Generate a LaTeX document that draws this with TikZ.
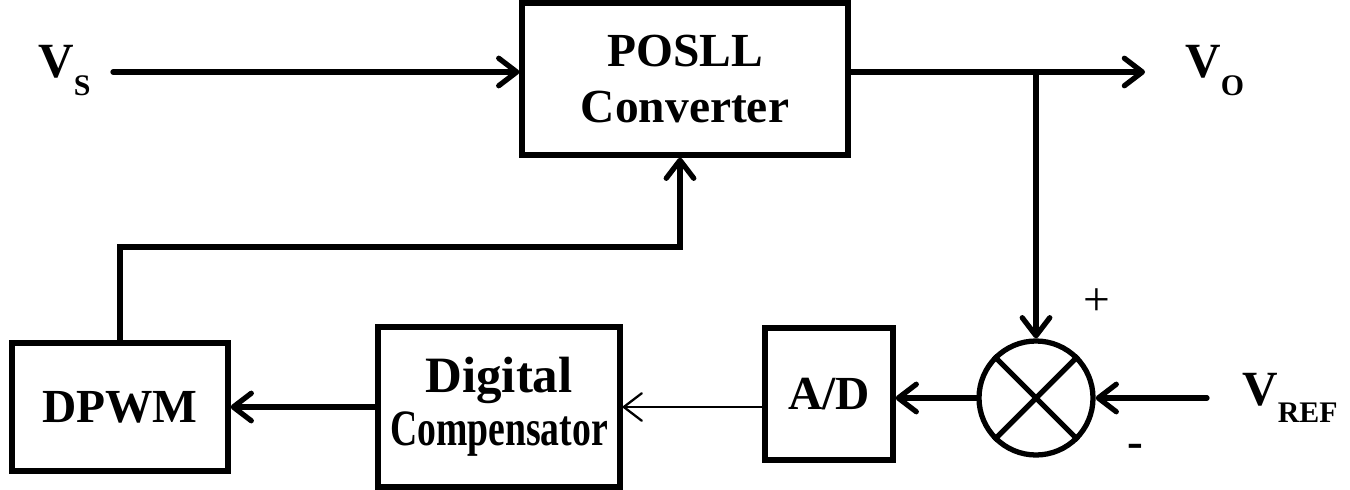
\documentclass[tikz,border=0pt]{standalone}
\usepackage{fontspec}
\setmainfont{Liberation Serif}
\usepackage{tikz}
\usetikzlibrary{arrows.meta}

\newcommand{\sig}[2]{\bfseries\fontsize{28}{28}\selectfont V\raisebox{-10pt}{\fontsize{17}{17}\selectfont #2}}
\newcommand{\narrowtxt}[1]{\scalebox{0.74}[1]{#1}}

\tikzset{
  block/.style={draw, rectangle, line width=3pt, align=center,
    font=\bfseries\fontsize{27}{32}\selectfont},
  sumjunc/.style={draw, circle, line width=3pt, minimum size=2.28cm, inner sep=0pt},
  wire/.style={line width=3pt, line cap=round},
  thinwire/.style={line width=1.3pt}
}

\begin{document}
\begin{tikzpicture}[>={Straight Barb[length=0.36cm,width=0.55cm,round]}]
		\useasboundingbox (0,0) rectangle (27,9.78);
		\node[block, minimum width=6.52cm, minimum height=3.04cm] at (13.7,8.2) (posll){POSLL\\Converter};
		\node[block, minimum width=2.56cm, minimum height=2.64cm] at (16.58,1.9) (ad){A/D};
		\node[block, minimum width=4.84cm, minimum height=3.2cm] at (9.98,1.64) (dc){{\fontsize{29}{29}\selectfont Digital}\\[-2pt]{\fontsize{29}{29}\selectfont\narrowtxt{Compensator}}};
		\node[block, minimum width=4.32cm, minimum height=2.56cm] at (2.4,1.64) (dpwm){DPWM};
		\node[sumjunc] at (20.72,1.82) (sum){};
		\draw[line width=3pt] (sum.north west) -- (sum.south east);
		\draw[line width=3pt] (sum.north east) -- (sum.south west);
		% signal labels
		\node[anchor=base west, inner sep=0pt] at (0.76,8.22) (vslab){\sig{V}{S}};
		\node[anchor=base west, inner sep=0pt] at (23.7,8.22) (volab){\sig{V}{O}};
		\node[anchor=base west, inner sep=0pt] at (24.84,1.68) (vreflab){\sig{V}{REF}};
		\node[font=\fontsize{27}{27}\selectfont] at (21.94,3.74) (plus){+};
		\node[font=\bfseries\fontsize{27}{27}\selectfont] at (22.7,0.76) (minus){-};
		\coordinate (vs) at (2.26,8.34);
		\coordinate (vo) at (22.9,8.34);
		\coordinate (br) at (20.72,8.34);
		\coordinate (vref) at (24.14,1.82);
		\coordinate (fb) at (13.6,4.84);
		% forward path
		\draw[wire,->] (vs) -- (vs -| posll.west);
		\draw[wire,->] (vs -| posll.east) -- (vo);
		\draw[wire,->] (br) -- (sum.north);
		\draw[wire,->] (vref) -- (sum.east);
		\draw[wire,->] (sum.west) -- (sum.west -| ad.east);
		\draw[thinwire,->] (ad.west |- dc.east) -- (dc.east);
		\draw[wire,->] (dc.west) -- (dpwm.east);
		% feedback to converter
		\draw[wire,->] (dpwm.north) |- (fb) -- (fb |- posll.south);
\end{tikzpicture}
\end{document}
